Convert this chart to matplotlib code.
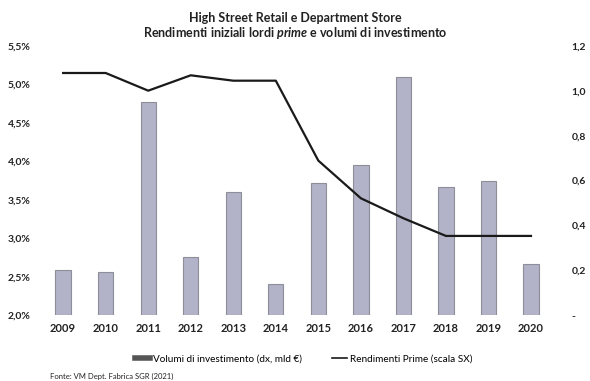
import matplotlib.pyplot as plt
from matplotlib.lines import Line2D
from matplotlib.ticker import FuncFormatter

years = ['2009', '2010', '2011', '2012', '2013', '2014', '2015', '2016',
         '2017', '2018', '2019', '2020']
# investment volumes, bn EUR (right axis)
volumi = [0.20, 0.19, 0.95, 0.26, 0.55, 0.14, 0.59, 0.67, 1.06, 0.57, 0.60, 0.23]
# prime yields, % (left axis)
rendimenti = [5.15, 5.15, 4.92, 5.12, 5.05, 5.05, 4.01, 3.52, 3.26, 3.03, 3.03, 3.03]

left_ticks = [2.0, 2.5, 3.0, 3.5, 4.0, 4.5, 5.0, 5.5]
right_ticks = [0, 0.2, 0.4, 0.6, 0.8, 1.0, 1.2]

plt.rcParams['font.family'] = ['Lato', 'DejaVu Sans']
plt.rcParams['mathtext.fontset'] = 'custom'
plt.rcParams['mathtext.it'] = 'Lato:italic:bold'

fig = plt.figure(figsize=(5.9, 3.81), dpi=100)
ax = fig.add_axes([0.071, 0.173, 0.865, 0.706])
ax2 = ax.twinx()

x = list(range(len(years)))

# bars on the right axis, line on the left axis (line drawn above bars)
ax2.bar(x, volumi, width=0.36, color='#b2b3c8', edgecolor='#8e8e9a', linewidth=0.8, zorder=1)
ax2.set_ylim(0, 1.2)
ax2.set_yticks(right_ticks)
ax2.yaxis.set_major_formatter(FuncFormatter(lambda v, p: '-' if v == 0 else '{:.1f}'.format(v).replace('.', ',')))

ax.set_zorder(ax2.get_zorder() + 1)
ax.patch.set_visible(False)
ax.plot(x, rendimenti, color='#1a1a1a', lw=1.6, zorder=3)
ax.set_ylim(2.0, 5.5)
ax.set_yticks(left_ticks)
ax.yaxis.set_major_formatter(FuncFormatter(lambda v, p: '{:.1f}%'.format(v).replace('.', ',')))
ax.set_xlim(-0.5, len(years) - 0.5)
ax.set_xticks(x)
ax.set_xticklabels(years)

for a in (ax, ax2):
    for s in a.spines.values():
        s.set_visible(False)
    a.tick_params(length=0, labelsize=7.5, colors='#222222')
    for lbl in a.get_yticklabels() + a.get_xticklabels():
        lbl.set_fontweight('bold')
ax.tick_params(axis='y', pad=8)
ax2.tick_params(axis='y', pad=14)
ax.tick_params(axis='x', labelsize=8, pad=6)

fig.text(0.5, 0.953, 'High Street Retail e Department Store', ha='center', va='center',
         fontsize=9, fontweight='bold', color='#222222')
fig.text(0.5, 0.913, r'Rendimenti iniziali lordi $\it{prime}$ e volumi di investimento',
         ha='center', va='center', fontsize=9, fontweight='bold', color='#222222')

handles = [Line2D([0], [0], color='#555555', lw=4),
           Line2D([0], [0], color='#1a1a1a', lw=1.2)]
labels = ['Volumi di investimento (dx, mld \u20ac)', 'Rendimenti Prime (scala SX)']
fig.legend(handles, labels, loc='center', bbox_to_anchor=(0.515, 0.058), ncol=2,
           frameon=False, fontsize=7.2, handlelength=1.5, handletextpad=0.3, columnspacing=3)

fig.text(0.085, 0.011, 'Fonte: VM Dept. Fabrica SGR (2021)', fontsize=5.5, color='#222222', va='center')

fig.savefig('out.png', dpi=100)
